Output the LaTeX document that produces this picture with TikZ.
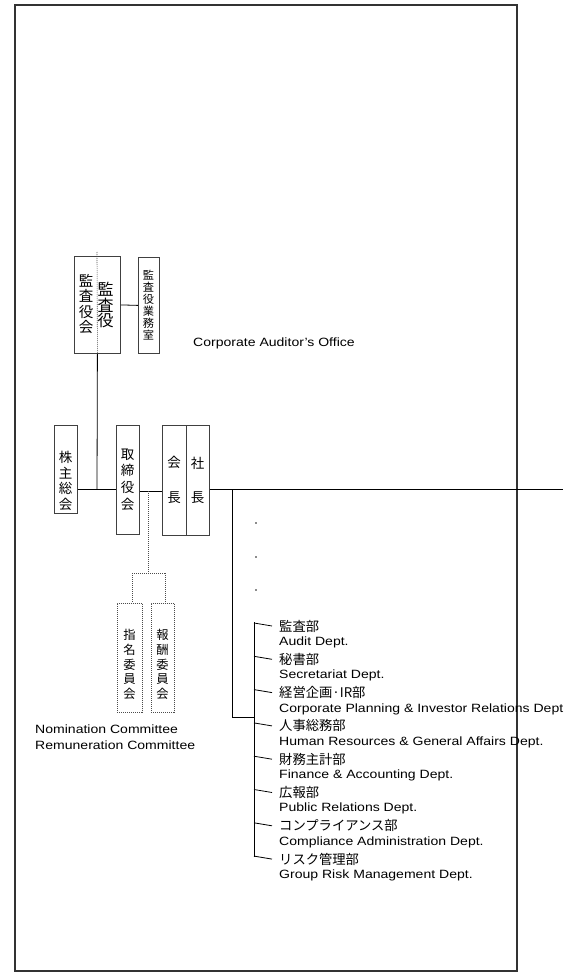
\documentclass[tikz,border=0pt]{standalone}
\usepackage{fontspec}
\setmainfont{Liberation Sans}[FakeStretch=1.17]
\newfontfamily\jp{Noto Sans CJK JP}
\begin{document}
\begin{tikzpicture}[x=1pt,y=-1pt,
  box/.style={draw=black!75, line width=0.8pt, rectangle, inner sep=0pt, anchor=north west},
  dbox/.style={box, dash pattern=on 1pt off 1pt, draw=black!70},
  vt/.style={align=center, inner sep=0pt},
  conn/.style={draw=black, line width=0.8pt},
  dconn/.style={draw=black!70, line width=0.8pt, dash pattern=on 1pt off 1pt},
  en/.style={anchor=west, inner sep=0pt, font=\fontsize{12}{14}\selectfont},
  jt/.style={anchor=west, inner sep=0pt, font=\jp\fontsize{13.3}{14}\selectfont},
  tick/.style={draw=black, line width=0.8pt},
  speck/.style={fill=black!45, inner sep=0pt, minimum size=1.3pt, draw=none}]
\useasboundingbox (0,0) rectangle (563,973);
% outer frame
\draw[draw=black!80, line width=1.4pt] (15,5) rectangle (517,971);

% auditors
\node[box, minimum width=46pt, minimum height=97pt] (kansa) at (74,256) {};
\node[box, minimum width=21pt, minimum height=96pt] (office) at (138,257) {};
\node[vt, font=\jp\fontsize{14.5}{15.5}\selectfont] (kansakaiT) at (86,304) {監\\査\\役\\会};
\node[vt, font=\jp\fontsize{16}{15.2}\selectfont] (kansayakuT) at (105.5,305) {監\\査\\役};
\node[vt, font=\jp\fontsize{11.2}{12}\selectfont] (officeT) at (148.5,305) {監\\査\\役\\業\\務\\室};
\node[en, anchor=west] (officeE) at (193,343) {Corporate Auditor's Office};
\coordinate (divtop) at (97,252);
\draw[dconn, line width=0.6pt] (divtop) -- (kansa.south);
\draw[conn] (kansa.east) -- (office.west);

% main row
\node[box, minimum width=23pt, minimum height=88pt] (kabu) at (54,425) {};
\node[box, minimum width=23pt, minimum height=109pt] (tori) at (116,425) {};
\node[box, minimum width=24pt, minimum height=110pt] (kaicho) at (162,425) {};
\node[box, minimum width=23pt, minimum height=110pt] (shacho) at (186,425) {};
\node[vt, font=\jp\fontsize{13.5}{15.5}\selectfont] (kabuT) at (65.5,481) {株\\主\\総\\会};
\node[vt, font=\jp\fontsize{13.5}{16.6}\selectfont] (toriT) at (127.5,479.5) {取\\締\\役\\会};
\node[vt, font=\jp\fontsize{13.5}{35}\selectfont] (kaichoT) at (174,479.5) {会\\長};
\node[vt, font=\jp\fontsize{13.5}{34}\selectfont] (shachoT) at (197.5,480.5) {社\\長};

\coordinate (j1) at (97,489);
\coordinate (j2) at (148,491);
\coordinate (j3) at (232,489);
\coordinate (rightend) at (563,489);
\draw[conn] (kabu.east |- j1) -- (tori.west |- j1);
\draw[conn] (kansa.south) -- (j1);
\draw[conn] (tori.east |- j2) -- (kaicho.west |- j2);
\draw[conn] (shacho.east |- j3) -- (rightend);

% committees
\node[dbox, minimum width=25pt, minimum height=109pt] (shimei) at (117,603) {};
\node[dbox, minimum width=23pt, minimum height=109pt] (hoshu) at (151,603) {};
\node[vt, font=\jp\fontsize{12.3}{14.8}\selectfont] (shimeiT) at (129.5,664.5) {指\\名\\委\\員\\会};
\node[vt, font=\jp\fontsize{12.3}{14.8}\selectfont] (hoshuT) at (162.5,664.5) {報\\酬\\委\\員\\会};
\coordinate (c0) at (148,573);
\coordinate (cl) at (132,573);
\coordinate (cr) at (165,573);
\draw[dconn] (j2) -- (c0);
\draw[dconn] (cl) -- (cr);
\draw[dconn] (cl) -- (cl |- shimei.north);
\draw[dconn] (cr) -- (cr |- hoshu.north);
\node[en] (nomE) at (35,729) {Nomination Committee};
\node[en] (remE) at (35,745.5) {Remuneration Committee};

% specks
\node[speck] (s1) at (256,523) {};
\node[speck] (s2) at (256,557) {};
\node[speck] (s3) at (256,590) {};

% departments
\coordinate (dtop) at (254,622);
\coordinate (dbot) at (254,857);
\coordinate (dmid) at (254,717);
\draw[conn] (j3) -- (232,717) -- (dmid);
\draw[conn] (dtop) -- (dbot);

\foreach \i/\jtext/\etext in {
  0/監査部/Audit Dept.,
  1/秘書部/Secretariat Dept.,
  2/経営企画·IR部/Corporate Planning \& Investor Relations Dept,
  3/人事総務部/Human Resources \& General Affairs Dept.,
  4/財務主計部/Finance \& Accounting Dept.,
  5/広報部/Public Relations Dept.,
  6/コンプライアンス部/Compliance Administration Dept.,
  7/リスク管理部/Group Risk Management Dept.}{
  \pgfmathsetmacro{\yy}{626+33.3*\i}
  \node[jt] (dj\i) at (279,\yy) {\jtext};
  \node[en] (de\i) at (279,\yy+16.3) {\etext};
  \coordinate (dt\i) at (254,\yy-3);
  \draw[tick] (dt\i) -- (dj\i.west -| 272,0);
}
\end{tikzpicture}
\end{document}
